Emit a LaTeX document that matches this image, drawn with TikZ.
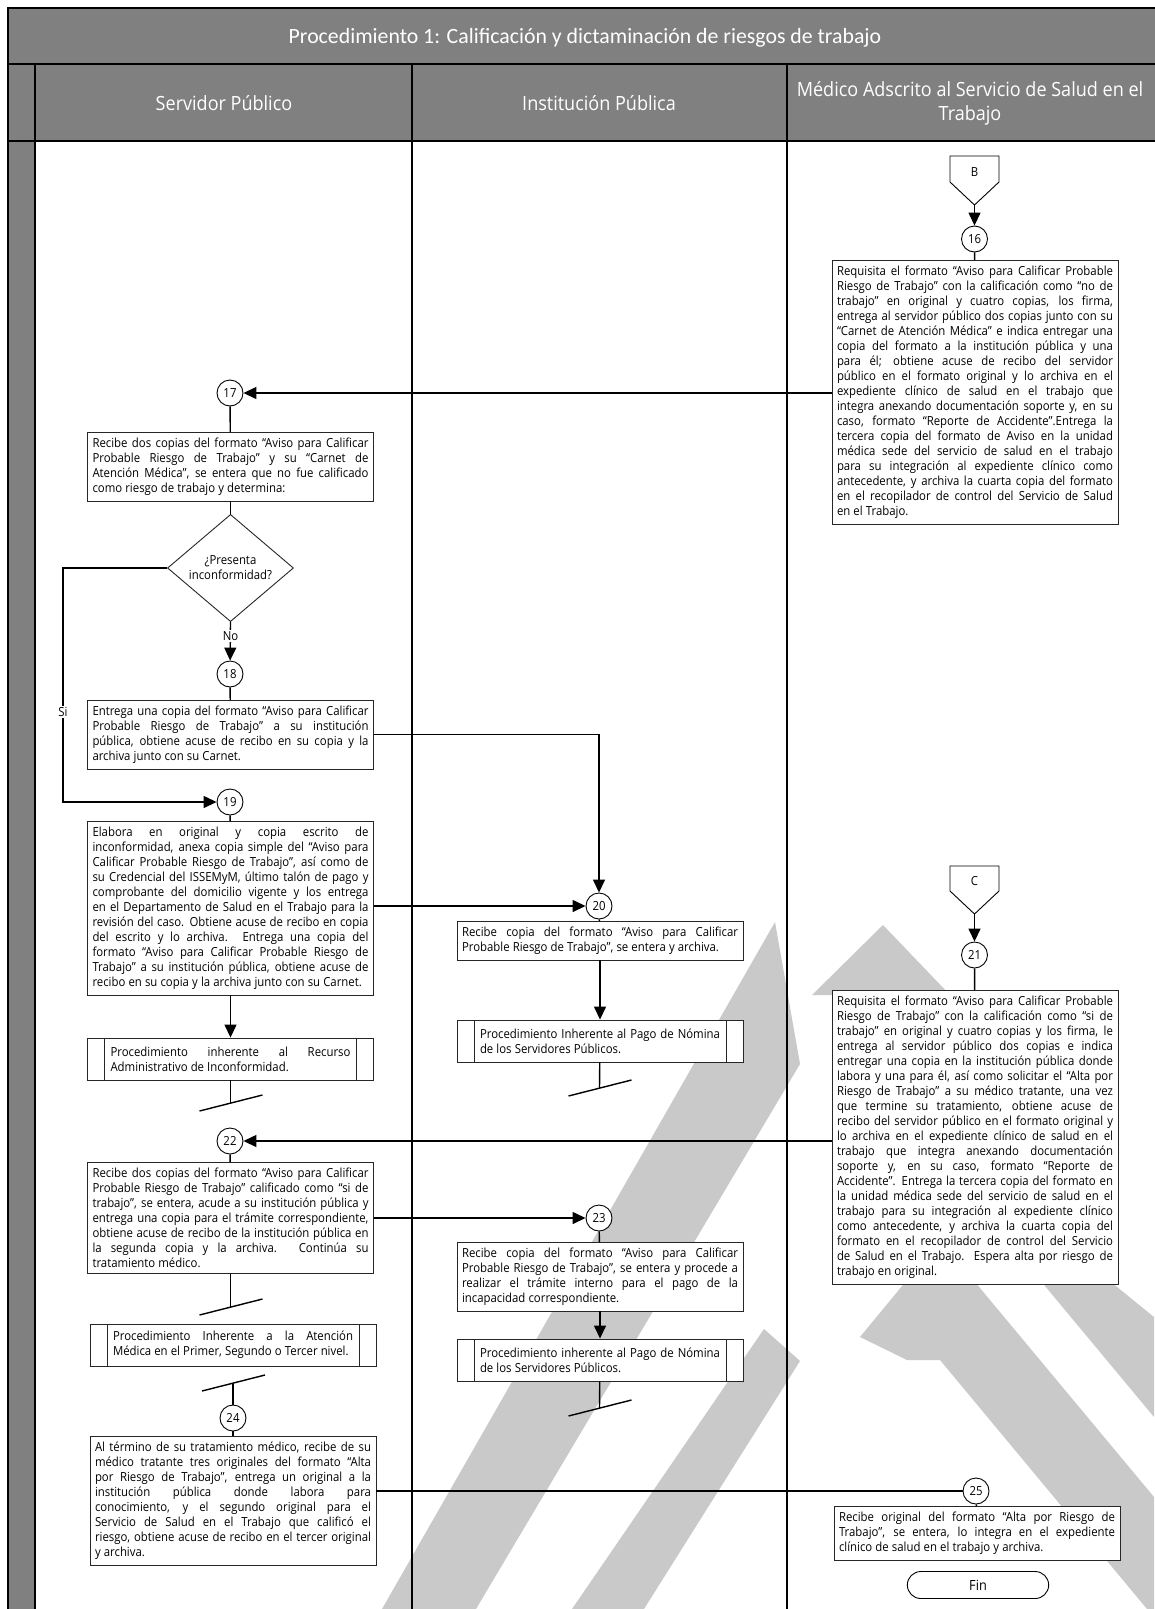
\documentclass[tikz,border=0pt]{standalone}
\usepackage{fontspec}
\setmainfont{Open Sans}[FakeStretch=0.91]
\newfontfamily\titlefont{Carlito}
\newfontfamily\hdrfont{Open Sans}[FakeStretch=0.92]
\usetikzlibrary{arrows.meta,shapes.geometric,shapes.misc,calc}
\definecolor{hdr}{RGB}{128,128,128}
\definecolor{wm}{RGB}{201,201,201}
\newcommand{\myspacing}{\spaceskip=0.25em plus 0.45em minus 0.1em\relax}
\tikzset{
  txt/.style={font=\fontsize{12.5}{15}\selectfont,execute at begin node=\myspacing},
  pbox/.style={txt,draw=black!85,line width=0.9pt,fill=white,text width=276pt,align=justify,inner xsep=5pt,inner ysep=5.5pt,anchor=north},
  subbox/.style={txt,draw=black!85,line width=0.9pt,fill=white,minimum width=286pt,minimum height=42pt,text width=240pt,align=justify,inner xsep=5pt,
    path picture={\draw[black!85,line width=0.9pt] ([xshift=17pt]path picture bounding box.north west) -- ([xshift=17pt]path picture bounding box.south west);
                  \draw[black!85,line width=0.9pt] ([xshift=-17pt]path picture bounding box.north east) -- ([xshift=-17pt]path picture bounding box.south east);}},
  circ/.style={txt,circle,draw=black,line width=0.9pt,fill=white,minimum size=26pt,inner sep=0pt},
  dec/.style={txt,diamond,draw=black!85,line width=0.9pt,fill=white,minimum width=126pt,minimum height=94pt,inner sep=0pt,align=center},
  lbl/.style={txt,fill=white,inner sep=1.5pt},
  conn/.style={line width=1.4pt,black},
  arr/.style={conn,-{Triangle[length=13pt,width=12pt]}},
  hdrtxt/.style={text=white,font=\hdrfont\fontsize{19.6}{24}\selectfont,align=center},
  lane/.style={line width=2pt,black}
}
\begin{document}
\begin{tikzpicture}[x=1pt,y=-1pt]
\useasboundingbox (0,0) rectangle (1154,1609);
\fill[white] (0,0) rectangle (1154,1609);
% watermark
\fill[wm] (382,1609) -- (476,1609) -- (800,1064) -- (775,922) -- cycle;
\fill[wm] (572,1609) -- (644,1609) -- (800,1361) -- (764,1329) -- cycle;
\fill[wm] (883,925) -- (950,995) -- (812,995) -- cycle;
\fill[wm] (940,1240) -- (1154,1497) -- (1154,1609) -- (1147,1609) -- (940,1360) -- (907,1360) -- (860,1337) -- cycle;
\fill[wm] (1010,1200) -- (1154,1317) -- (1154,1417) -- (1045,1286) -- cycle;
% frame
\fill[hdr] (8,8) rectangle (1160,141);
\fill[hdr] (8,141) rectangle (35,1620);
\draw[lane] (8,1620) -- (8,8) -- (1160,8);
\draw[lane] (8,64) -- (1160,64);
\draw[lane] (8,141) -- (1160,141);
\draw[lane] (35,64) -- (35,1620);
\draw[lane] (412,64) -- (412,1620);
\draw[lane] (787,64) -- (787,1620);
\node[text=white,font=\titlefont\fontsize{21.8}{26}\selectfont] (title) at (585,38) {Procedimiento 1: Calificación y dictaminación de riesgos de trabajo};
\node[hdrtxt] (h1) at (224,103) {Servidor Público};
\node[hdrtxt] (h2) at (599,103) {Institución Pública};
\node[hdrtxt] (h3) at (970,103) {Médico Adscrito al Servicio de Salud en el\\Trabajo};

% ---------- lane 3 top
\coordinate (Btip) at (974.5,205);
\draw[black,line width=0.9pt,fill=white] (950,156) -- (999,156) -- (999,182) -- (Btip) -- (950,182) -- cycle;
\node[txt] (B) at (974.5,172) {B};
\node[circ] (c16) at (974.5,239) {16};
\node[pbox] (b16) at (975,260) {Requisita el formato “Aviso para Calificar Probable \linebreak
Riesgo de Trabajo” con la calificación como “no de \linebreak
trabajo” en original y cuatro copias, los firma, \linebreak
entrega al servidor público dos copias junto con su \linebreak
“Carnet de Atención Médica” e indica entregar una \linebreak
copia del formato a la institución pública y una \linebreak
para él; obtiene acuse de recibo del servidor \linebreak
público en el formato original y lo archiva en el \linebreak
expediente clínico de salud en el trabajo que \linebreak
integra anexando documentación soporte y, en su \linebreak
caso, formato “Reporte de Accidente”.Entrega la \linebreak
tercera copia del formato de Aviso en la unidad \linebreak
médica sede del servicio de salud en el trabajo \linebreak
para su integración al expediente clínico como \linebreak
antecedente, y archiva la cuarta copia del formato \linebreak
en el recopilador de control del Servicio de Salud \linebreak
en el Trabajo.};

% ---------- lane 1
\node[circ] (c17) at (230,393) {17};
\node[pbox] (b17) at (230.5,432) {Recibe dos copias del formato “Aviso para Calificar \linebreak
Probable Riesgo de Trabajo” y su “Carnet de \linebreak
Atención Médica”, se entera que no fue calificado \linebreak
como riesgo de trabajo y determina:};
\node[dec] (dia) at (230.5,568) {¿Presenta\\inconformidad?};
\node[circ] (c18) at (230,674) {18};
\node[pbox] (b18) at (230.5,700) {Entrega una copia del formato “Aviso para Calificar \linebreak
Probable Riesgo de Trabajo” a su institución \linebreak
pública, obtiene acuse de recibo en su copia y la \linebreak
archiva junto con su Carnet.};
\node[circ] (c19) at (230,802) {19};
\node[pbox] (b19) at (230.5,821) {Elabora en original y copia escrito de \linebreak
inconformidad, anexa copia simple del “Aviso para \linebreak
Calificar Probable Riesgo de Trabajo”, así como de \linebreak
su Credencial del ISSEMyM, último talón de pago y \linebreak
comprobante del domicilio vigente y los entrega \linebreak
en el Departamento de Salud en el Trabajo para la \linebreak
revisión del caso. Obtiene acuse de recibo en copia \linebreak
del escrito y lo archiva. Entrega una copia del \linebreak
formato “Aviso para Calificar Probable Riesgo de \linebreak
Trabajo” a su institución pública, obtiene acuse de \linebreak
recibo en su copia y la archiva junto con su Carnet.};
\node[subbox] (sA) at (230.5,1059) {Procedimiento inherente al Recurso \linebreak Administrativo de Inconformidad.};
\coordinate (eA) at (230.5,1103);

\node[circ] (c22) at (230,1141) {22};
\node[pbox] (b22) at (230.5,1162) {Recibe dos copias del formato “Aviso para Calificar \linebreak
Probable Riesgo de Trabajo” calificado como “si de \linebreak
trabajo”, se entera, acude a su institución pública y \linebreak
entrega una copia para el trámite correspondiente, \linebreak
obtiene acuse de recibo de la institución pública en \linebreak
la segunda copia y la archiva. Continúa su \linebreak
tratamiento médico.};
\coordinate (eB) at (230.5,1307);
\node[subbox] (sB) at (233,1345) {Procedimiento Inherente a la Atención \linebreak Médica en el Primer, Segundo o Tercer nivel.};
\coordinate (sC) at (233,1383);
\node[circ] (c24) at (233,1418) {24};
\node[pbox] (b24) at (233,1436) {Al término de su tratamiento médico, recibe de su \linebreak
médico tratante tres originales del formato “Alta \linebreak
por Riesgo de Trabajo”, entrega un original a la \linebreak
institución pública donde labora para \linebreak
conocimiento, y el segundo original para el \linebreak
Servicio de Salud en el Trabajo que calificó el \linebreak
riesgo, obtiene acuse de recibo en el tercer original \linebreak
y archiva.};

% ---------- lane 2
\node[circ] (c20) at (599,906) {20};
\node[pbox] (b20) at (600,921) {Recibe copia del formato “Aviso para Calificar \linebreak
Probable Riesgo de Trabajo”, se entera y archiva.};
\node[subbox] (s1) at (600,1041) {Procedimiento Inherente al Pago de Nómina \linebreak de los Servidores Públicos.};
\coordinate (e1) at (599.5,1088);
\node[circ] (c23) at (599,1218) {23};
\node[pbox] (b23) at (600,1242) {Recibe copia del formato “Aviso para Calificar \linebreak
Probable Riesgo de Trabajo”, se entera y procede a \linebreak
realizar el trámite interno para el pago de la \linebreak
incapacidad correspondiente.};
\node[subbox] (s2) at (600,1360) {Procedimiento inherente al Pago de Nómina \linebreak de los Servidores Públicos.};
\coordinate (e2) at (599.5,1408);

% ---------- lane 3 lower
\coordinate (Ctip) at (974.5,914);
\draw[black,line width=0.9pt,fill=white] (950,866) -- (999,866) -- (999,891) -- (Ctip) -- (950,891) -- cycle;
\node[txt] (C) at (974.5,881) {C};
\node[circ] (c21) at (974.5,955) {21};
\node[pbox] (b21) at (975,990) {Requisita el formato “Aviso para Calificar Probable \linebreak
Riesgo de Trabajo” con la calificación como “si de \linebreak
trabajo” en original y cuatro copias y los firma, le \linebreak
entrega al servidor público dos copias e indica \linebreak
entregar una copia en la institución pública donde \linebreak
labora y una para él, así como solicitar el “Alta por \linebreak
Riesgo de Trabajo” a su médico tratante, una vez \linebreak
que termine su tratamiento, obtiene acuse de \linebreak
recibo del servidor público en el formato original y \linebreak
lo archiva en el expediente clínico de salud en el \linebreak
trabajo que integra anexando documentación \linebreak
soporte y, en su caso, formato “Reporte de \linebreak
Accidente”. Entrega la tercera copia del formato en \linebreak
la unidad médica sede del servicio de salud en el \linebreak
trabajo para su integración al expediente clínico \linebreak
como antecedente, y archiva la cuarta copia del \linebreak
formato en el recopilador de control del Servicio \linebreak
de Salud en el Trabajo. Espera alta por riesgo de \linebreak
trabajo en original.};
\node[circ] (c25) at (976,1491) {25};
\node[pbox] (b25) at (977,1506) {Recibe original del formato “Alta por Riesgo de \linebreak
Trabajo”, se entera, lo integra en el expediente \linebreak
clínico de salud en el trabajo y archiva.};
\node[rounded rectangle,draw=black,line width=0.9pt,fill=white,minimum width=148pt,minimum height=27pt,font=\fontsize{14}{16}\selectfont] (fin) at (978,1585) {Fin};

% ---------- connectors
\draw[arr] (Btip) -- (c16);
\draw[conn] (c16) -- (b16);
\draw[arr] (b16.west |- c17) -- (c17);
\draw[conn] (c17) -- (b17);
\draw[conn] (b17) -- (dia);
\draw[arr] (dia.south) -- (c18);
\node[lbl] (no) at (230.5,636) {No};
\draw[conn] (c18) -- (b18);
\coordinate (si2) at (63,802);
\draw[arr] (dia.west) -| (si2) -- (c19);
\node[lbl] (si) at (63,712) {Si};
\draw[conn] (c19) -- (b19);
\draw[arr] (b18.east) -| (c20);
\draw[arr] (b19.east |- c20) -- (c20);
\draw[arr] (b19) -- (sA);
\draw[conn] (sA) -- (eA);
\draw[conn] ($(eA)+(-31,8)$) -- ($(eA)+(32,-8)$);
\draw[conn] (c20) -- (b20);
\draw[arr] (b20) -- (s1);
\draw[conn] (s1) -- (e1);
\draw[conn] ($(e1)+(-31,8)$) -- ($(e1)+(32,-8)$);
\draw[arr] (Ctip) -- (c21);
\draw[conn] (c21) -- (b21);
\draw[arr] (b21.west |- c22) -- (c22);
\draw[conn] (c22) -- (b22);
\draw[conn] (b22) -- (eB);
\draw[conn] ($(eB)+(-31,8)$) -- ($(eB)+(32,-8)$);
\draw[arr] (b22.east |- c23) -- (c23);
\draw[conn] (c23) -- (b23);
\draw[arr] (b23) -- (s2);
\draw[conn] (s2) -- (e2);
\draw[conn] ($(e2)+(-31,8)$) -- ($(e2)+(32,-8)$);
\draw[conn] ($(sC)+(-31,8)$) -- ($(sC)+(32,-8)$);
\draw[conn] (sC) -- (c24);
\draw[conn] (c24) -- (b24);
\draw[conn] (b24.east |- c25) -- (c25);
\draw[conn] (c25) -- (b25);
\end{tikzpicture}
\end{document}
